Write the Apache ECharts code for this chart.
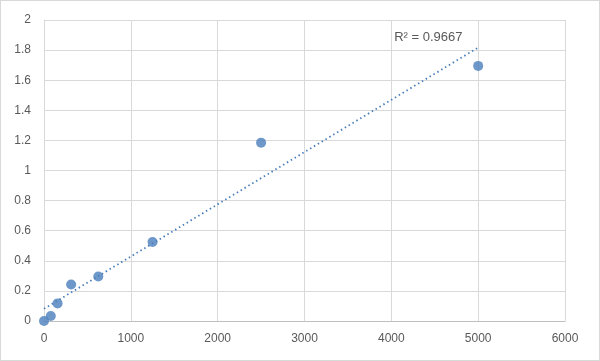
<!DOCTYPE html>
<html><head><meta charset="utf-8">
<script src="https://cdn.jsdelivr.net/npm/echarts@6/dist/echarts.min.js"></script>
<style>html,body{margin:0;padding:0;background:#fff}#c{width:600px;height:361px;box-sizing:border-box;border:1px solid #d9d9d9}</style>
</head><body><div id="c"></div>
<script>
const xValues = [0, 78.125, 156.25, 312.5, 625, 1250, 2500, 5000];
const yValues = [0, 0.033, 0.117, 0.243, 0.296, 0.525, 1.185, 1.695];
const r2Label = 'R² = 0.9667';

// linear least-squares trendline from the data
const n = xValues.length;
const mx = xValues.reduce((a,b)=>a+b,0)/n, my = yValues.reduce((a,b)=>a+b,0)/n;
let sxy=0,sxx=0; for(let i=0;i<n;i++){sxy+=(xValues[i]-mx)*(yValues[i]-my);sxx+=(xValues[i]-mx)**2;}
const slope=sxy/sxx, icpt=my-slope*mx;
const xMin=xValues[0], xMax=xValues[n-1];
const trend=[[xMin,icpt+slope*xMin],[xMax,icpt+slope*xMax]];

const chart = echarts.init(document.getElementById('c'));
const labelStyle = {color:'#595959', fontSize:12, fontFamily:'Liberation Sans, Arial, sans-serif'};
chart.setOption({
  animation:false,
  grid:{left:43,right:34,top:19,bottom:39},
  xAxis:{type:'value',min:0,max:6000,interval:1000,
    axisLine:{show:true,lineStyle:{color:'#bfbfbf',width:1}},
    axisTick:{show:false},
    axisLabel:Object.assign({margin:12,formatter:v=>String(v)},labelStyle),
    splitLine:{show:true,lineStyle:{color:'#d9d9d9',width:1}}},
  yAxis:{type:'value',min:0,max:2,interval:0.2,
    axisLine:{show:true,lineStyle:{color:'#d9d9d9',width:1}},
    axisTick:{show:false},
    axisLabel:Object.assign({margin:13,formatter:v=>String(Math.round(v*10)/10)},labelStyle),
    splitLine:{show:true,lineStyle:{color:'#d9d9d9',width:1}}},
  series:[
    {type:'line',data:trend,showSymbol:false,symbol:'none',
     lineStyle:{color:'#4a7ebb',width:1.8,type:[1.5,3]},z:2,
     endLabel:{show:true,formatter:r2Label,color:'#595959',fontSize:13,fontFamily:'Liberation Sans, Arial, sans-serif',offset:[-92,-10]}},
    {type:'scatter',data:xValues.map((x,i)=>[x,yValues[i]]),symbolSize:10,
     itemStyle:{color:'#4a7ebb'},z:3}
  ]
});
</script></body></html>
